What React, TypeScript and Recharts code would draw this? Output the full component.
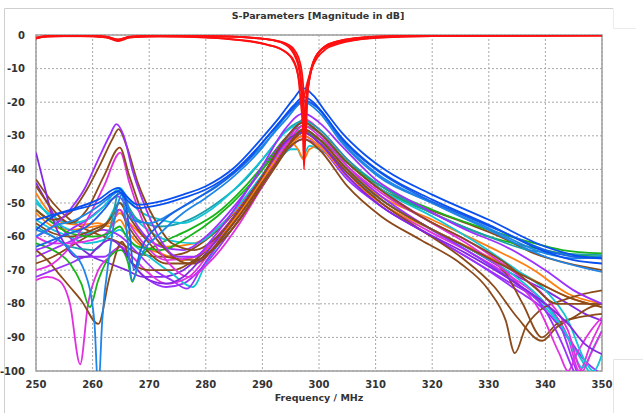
import React from 'react';
import { LineChart, Line, XAxis, YAxis, CartesianGrid, ReferenceArea } from 'recharts';

type P = [number, number];

const xTicks = [250, 260, 270, 280, 290, 300, 310, 320, 330, 340, 350];
const yTicks = [0, -10, -20, -30, -40, -50, -60, -70, -80, -90, -100];

// S11 (red) family
const red1: P[] = [[250,-0.9],[251.5,-0.4],[255,-0.2],[260,-0.3],[262.5,-0.6],[264.5,-1.5],[266.5,-0.6],[270,-0.3],[278,-0.3],[285,-0.5],[289,-0.9],[292,-1.6],[294,-2.8],[295,-4.2],[295.8,-6.5],[296.5,-10.5],[297,-18],[297.35,-40],[297.7,-22],[298.3,-13],[299,-8],[300,-5],[301.5,-3],[303.5,-1.8],[306,-1],[310,-0.5],[320,-0.2],[350,-0.1]];
const red2: P[] = [[250,-1.1],[251.5,-0.5],[255,-0.3],[260,-0.4],[262.5,-0.8],[264.5,-1.8],[266.5,-0.8],[270,-0.4],[276,-0.5],[281,-0.8],[285,-1.3],[288.5,-2],[291,-2.9],[293,-4],[294.5,-5.6],[295.5,-7.5],[296.3,-12],[296.9,-22],[297.3,-28],[297.8,-18],[298.6,-10],[299.6,-6],[301,-3.8],[303,-2.5],[306,-1.5],[310,-0.8],[320,-0.3],[350,-0.1]];
const red3: P[] = [[250,-0.8],[252,-0.3],[258,-0.2],[262.5,-0.5],[264.5,-1.3],[266.5,-0.5],[272,-0.2],[282,-0.4],[288,-0.8],[292,-1.5],[294.5,-2.8],[295.8,-4.8],[296.7,-8.5],[297.2,-15],[297.6,-30],[298,-17],[298.8,-9.5],[299.8,-5.5],[301,-3.4],[303,-2],[306,-1.1],[310,-0.5],[320,-0.2],[350,-0.1]];
const red4: P[] = [[250,-1],[252,-0.4],[258,-0.3],[262.5,-0.7],[264.5,-1.7],[266.5,-0.7],[272,-0.4],[279,-0.7],[284,-1.2],[288,-2],[291,-3],[293.5,-4.4],[295,-6.5],[296,-10],[296.8,-16],[297.2,-19],[297.8,-15],[298.7,-10],[299.8,-6.5],[301.2,-4.2],[303.5,-2.6],[306.5,-1.5],[311,-0.8],[320,-0.3],[350,-0.1]];
const red5: P[] = [[250,-0.9],[252,-0.4],[258,-0.2],[262.5,-0.6],[264.5,-1.4],[266.5,-0.6],[272,-0.3],[283,-0.4],[288.5,-0.9],[292.5,-1.8],[294.8,-3.5],[296,-6.5],[296.7,-11],[297.1,-20],[297.45,-34],[297.9,-19],[298.5,-11.5],[299.3,-7],[300.5,-4.2],[302.5,-2.4],[305.5,-1.3],[310,-0.6],[320,-0.2],[350,-0.1]];

// strong blue family
const blue1: P[] = [[250,-55],[253,-53.5],[257,-51.5],[261,-49],[264.5,-45.5],[266,-48],[268,-50.5],[272,-49.5],[276,-47.5],[280,-45],[285,-39.5],[290,-30.5],[293,-24.5],[295.5,-19],[297.2,-15.8],[299,-18],[301,-22.5],[304,-29],[308,-35.5],[312,-40.5],[320,-47.5],[330,-55],[340,-63],[345,-65.5],[350,-66.5]];
const blue2: P[] = [[250,-58],[253,-54],[257,-52],[261,-50],[264.5,-46.5],[266,-49],[268,-51.5],[272,-50.5],[276,-48.5],[280,-46],[285,-40.5],[290,-32],[293,-26],[295.5,-21],[297.3,-18.5],[299,-20],[301,-24],[304,-30.5],[308,-37],[312,-42],[320,-49],[330,-56.5],[340,-64.5],[345,-67],[350,-68]];
const azure1: P[] = [[250,-60],[253,-57],[257,-55],[261,-51],[264,-47],[265,-46],[266,-58],[267,-73],[268.5,-66],[272,-59],[276,-53],[280,-48.5],[285,-42],[290,-33.5],[294,-24.5],[297.3,-19.5],[300,-22],[304,-31.5],[310,-41],[320,-50],[330,-58],[340,-66],[350,-70.5]];
const azure2: P[] = [[250,-58],[253,-60],[256,-64],[258.5,-70],[260.3,-85],[261,-106],[261.7,-85],[263,-65],[264.5,-50],[265.5,-47],[267,-55],[270,-56],[275,-52],[280,-47],[285,-41],[290,-33],[294,-25.5],[297.3,-20],[300,-23],[304,-32],[310,-41.5],[320,-50],[330,-57.5],[340,-65],[345,-66.5],[350,-66]];
const blue3: P[] = [[250,-63],[253,-61],[256,-59],[259,-57],[262,-52],[264,-48],[265.3,-47],[266.5,-58],[267.3,-70],[268.5,-64],[272,-56],[277,-50],[282,-45],[287,-38],[291,-30],[294.5,-23.5],[297.3,-19.5],[300,-22],[304,-31],[310,-40],[318,-48],[326,-54],[333,-59],[340,-64],[345,-66],[350,-66.5]];

// other transmission curves
const purple1: P[] = [[250,-60],[253,-57],[256,-52],[258.5,-46],[261,-37],[263,-30],[264.2,-26.5],[265.5,-30],[267,-40],[269.5,-52],[272,-61],[275,-66],[278,-66],[281,-61],[285,-52],[290,-39],[294,-28],[297.3,-23.3],[300,-26],[304,-33],[310,-43],[318,-51],[326,-58],[333,-63],[340,-70],[345,-76],[350,-80]];
const brown1: P[] = [[250,-52],[253,-55],[256,-53],[259,-46],[261.5,-38],[263.5,-31],[264.6,-28],[266,-33],[268,-44],[271,-55],[274,-62],[278,-64],[282,-60],[286,-52],[290,-42],[294,-31],[297.3,-26],[300,-29],[305,-38],[310,-45],[318,-54],[326,-61],[333,-68],[338,-75],[342,-80],[346,-80],[350,-80]];
const brown2: P[] = [[250,-45],[253,-52],[256,-56],[259,-52],[262,-42],[264.8,-33.5],[266.5,-42],[269,-54],[273,-64],[277,-68],[281,-64],[286,-55],[291,-42],[294.5,-33],[297.3,-28],[300,-31],[305,-40],[311,-49],[319,-57],[326,-63],[333,-69],[339,-74],[344,-78],[350,-81]];
const magenta1: P[] = [[250,-70],[253,-68],[256,-63],[259,-55],[262,-45],[264.9,-35],[266.5,-44],[269,-56],[273,-67],[277,-72],[281,-67],[286,-56],[291,-42],[294.5,-32],[297.3,-27],[300,-30],[305,-39],[311,-47],[319,-55],[327,-62],[334,-70],[340,-78],[344,-88],[346.5,-100],[348,-95],[350,-88]];
const violet1: P[] = [[250,-35],[251.5,-45],[253,-55],[255,-62],[257,-66],[259,-66],[261,-63],[263,-61],[265,-63],[267,-68],[270,-73],[273,-74],[276,-72],[280,-65],[285,-54],[290,-42],[294,-32],[297.3,-29],[300,-32],[305,-42],[311,-51],[318,-58],[326,-65],[334,-73],[340,-80],[344,-86],[347,-92],[350,-95]];
const orange1: P[] = [[250,-47],[252,-52],[255,-56],[258,-56.5],[261,-56],[263,-57],[264.8,-55],[266,-58],[268,-62],[272,-65],[276,-67],[280,-64],[285,-55],[290,-43],[294,-34],[297.3,-30],[300,-33],[305,-42],[310,-49],[320,-58],[330,-66],[338,-73],[344,-78],[350,-81]];
const cyan1: P[] = [[250,-55],[253,-58],[256,-60],[259,-62],[262,-61],[264.8,-58],[267,-62],[270,-66],[274,-71],[277.7,-75],[280,-68],[284,-58],[289,-46],[293,-37],[295,-34],[296.2,-34],[297,-36.5],[298.3,-33],[301,-35],[305,-41],[311,-49],[320,-58],[328,-66],[335,-74],[341,-83],[345,-93],[348,-101],[350,-106]];
const purple2: P[] = [[250,-66],[254,-63],[258,-60],[262,-58],[265,-60],[268,-65],[271,-70],[274,-73],[276.7,-75.5],[279,-70],[283,-60],[288,-48],[292,-38],[295,-32],[297.3,-30],[300,-33],[305,-43],[311,-51],[320,-60],[328,-68],[335,-76],[340,-82],[344,-90],[347,-97],[350,-101]];
const magenta2: P[] = [[250,-73],[252,-72],[254,-73],[256,-80],[257.8,-98],[259.2,-80],[261,-70],[263,-66],[265,-63],[267,-66],[270,-71],[273,-74],[277,-72],[281,-64],[286,-53],[291,-41],[294.5,-33],[297.3,-29],[300,-32],[305,-41],[311,-50],[319,-58],[327,-65],[334,-72],[340,-80],[344,-90],[346,-100],[348,-92],[350,-85]];
const brown3: P[] = [[250,-64],[252,-67],[254,-71],[256,-75],[258,-79],[261,-86],[263,-72],[265.2,-61.5],[267,-68],[270,-70],[274,-70],[278,-67],[282,-61],[287,-51],[291,-41],[294.5,-33],[297.3,-28],[300,-31],[305,-40],[311,-49],[319,-57],[327,-64],[333,-71],[336,-80],[339.4,-90],[342,-86],[346,-84],[350,-83]];
const green1: P[] = [[250,-62],[253,-64],[256,-68],[258,-74],[259.5,-81],[261,-73],[263,-66],[265,-64],[266.3,-68],[267,-73.5],[268.5,-66],[272,-62],[277,-58],[282,-53],[287,-45],[291,-37],[294.5,-30],[297.3,-27],[300,-29],[305,-38],[311,-46],[320,-53],[330,-60],[337,-63],[343,-65],[350,-66]];
const teal1: P[] = [[250,-57],[253,-60],[256,-63],[260,-64],[263,-58],[264.8,-46],[266,-50],[268,-55],[272,-57],[277,-55],[282,-50],[287,-43],[291,-35],[294.5,-28],[297.3,-25.5],[300,-28],[305,-37],[311,-45],[320,-53],[330,-60],[337,-64],[343,-65],[350,-65.5]];
const cyan2: P[] = [[250,-50],[253,-54],[256,-56],[259,-55],[262,-51],[264.8,-45.5],[266,-48],[268,-52],[272,-55],[276,-56],[280,-53],[285,-46],[290,-37],[294,-29],[297.3,-26],[300,-29],[305,-38],[311,-46],[320,-54],[328,-62],[335,-70],[340,-76],[344,-85],[347,-97],[348.5,-100],[350,-95]];
const brown4: P[] = [[250,-43],[253,-50],[256,-55],[259,-58],[262,-60],[265,-62],[268,-65],[272,-66],[276,-65],[280,-61],[285,-53],[290,-42],[294,-33],[297.3,-29],[300,-31],[305,-38],[310,-45],[318,-51],[326,-56],[332,-60],[338,-65],[344,-68],[350,-70]];
const purple3: P[] = [[250,-72],[253,-70],[256,-68],[259,-66],[262,-66],[265,-63],[267,-68],[270,-73],[273,-75],[276,-74],[280,-68],[285,-57],[290,-45],[294,-35],[297.3,-31],[300,-33],[305,-42],[311,-51],[319,-59],[326,-66],[333,-73],[338,-78],[342,-84],[345.5,-100],[347,-106]];
const orange2: P[] = [[250,-53],[253,-57],[256,-58],[260,-57],[263,-56],[264.8,-53],[266,-55],[269,-60],[273,-63],[278,-62],[283,-56],[288,-47],[292,-38],[295,-32],[296.3,-34],[297.3,-37],[298.3,-34],[300,-33],[305,-40],[310,-47],[320,-55],[330,-63],[338,-70],[344,-77],[350,-80]];
const violet2: P[] = [[250,-44],[252,-50],[254,-56],[257,-62],[260,-66],[263,-68],[266,-70],[269,-72],[272,-72],[276,-70],[280,-64],[285,-54],[290,-42],[294,-32],[297.3,-28.5],[300,-31],[305,-40],[311,-49],[319,-57],[327,-64],[334,-71],[340,-76],[344,-80],[347,-83],[350,-85]];
const magenta3: P[] = [[250,-60],[253,-62],[256,-62],[260,-61],[263,-58],[264.8,-52],[266,-55],[269,-62],[273,-67],[278,-66],[283,-58],[288,-47],[292,-37],[295,-30],[297.3,-25],[300,-28],[305,-37],[311,-46],[319,-55],[327,-63],[334,-72],[339,-82],[342.5,-95],[344,-100],[345.5,-95],[348,-88],[350,-84]];
const brown5: P[] = [[250,-68],[253,-66],[256,-63],[259,-60],[262,-57],[264.8,-52],[266,-56],[269,-63],[273,-68],[278,-68],[283,-60],[288,-49],[292,-39],[295,-32],[297.3,-29],[300,-32],[305,-41],[311,-50],[318,-58],[325,-66],[331,-75],[335,-84],[339.4,-91],[342,-87],[345,-84],[348,-81],[350,-80]];
const brown6: P[] = [[250,-56],[253,-59],[256,-60],[260,-58],[263,-55],[264.8,-50],[266,-53],[269,-60],[273,-66],[278,-67],[283,-61],[288,-50],[292,-40],[295,-33],[297.3,-31],[300,-34],[305,-45],[311,-54],[318,-61],[325,-68],[330,-76],[333,-85],[334.6,-94.7],[336.5,-87],[339,-82],[343,-79],[347,-77],[350,-76]];
const cyan3: P[] = [[250,-49],[253,-55],[256,-58],[259,-59],[262,-57],[264.8,-50],[266,-52],[269,-57],[273,-61],[278,-62],[283,-56],[288,-46],[292,-37],[295,-30.5],[297.3,-28],[300,-31],[305,-40],[311,-49],[319,-57],[327,-64],[334,-71],[340,-80],[344,-90],[346.5,-99],[348.5,-93],[350,-88]];
const green2: P[] = [[250,-52],[253,-56],[256,-59],[260,-60],[263,-59],[264.8,-57],[266,-60],[268,-63],[272,-64],[277,-60],[282,-54],[287,-46],[291,-38],[294.5,-31],[297.3,-29],[300,-31],[305,-38],[311,-45],[320,-52],[330,-58],[337,-61.5],[343,-64],[350,-65]];
const purple4: P[] = [[250,-64],[253,-62],[256,-58],[259,-55],[262,-51],[264.5,-48],[266,-51],[268,-57],[272,-63],[276,-64],[280,-60],[285,-51],[290,-40],[294,-31],[297.3,-26],[300,-29],[305,-39],[311,-48],[319,-57],[327,-65],[334,-73],[340,-82],[343,-92],[345,-100],[347,-106]];

const RED = '#ff1010';
const BLUE = '#0a4ff0';
const AZURE = '#1e86e8';
const CYAN = '#12c4d6';
const TEAL = '#1aa0aa';
const PURPLE = '#9b30ff';
const VIOLET = '#8228e0';
const MAGENTA = '#e030e0';
const BROWN = '#8b4a1a';
const ORANGE = '#ff7f10';
const GREEN = '#18b418';

const series: { name: string; pts: P[]; color: string }[] = [
  { name: 'brown4', pts: brown4, color: BROWN },
  { name: 'violet2', pts: violet2, color: VIOLET },
  { name: 'purple3', pts: purple3, color: PURPLE },
  { name: 'cyan1', pts: cyan1, color: CYAN },
  { name: 'purple2', pts: purple2, color: PURPLE },
  { name: 'magenta2', pts: magenta2, color: MAGENTA },
  { name: 'brown3', pts: brown3, color: BROWN },
  { name: 'green1', pts: green1, color: GREEN },
  { name: 'orange1', pts: orange1, color: ORANGE },
  { name: 'orange2', pts: orange2, color: ORANGE },
  { name: 'cyan3', pts: cyan3, color: CYAN },
  { name: 'brown5', pts: brown5, color: BROWN },
  { name: 'brown6', pts: brown6, color: BROWN },
  { name: 'magenta3', pts: magenta3, color: MAGENTA },
  { name: 'purple4', pts: purple4, color: PURPLE },
  { name: 'green2', pts: green2, color: GREEN },
  { name: 'teal1', pts: teal1, color: TEAL },
  { name: 'cyan2', pts: cyan2, color: CYAN },
  { name: 'magenta1', pts: magenta1, color: MAGENTA },
  { name: 'violet1', pts: violet1, color: VIOLET },
  { name: 'brown2', pts: brown2, color: BROWN },
  { name: 'brown1', pts: brown1, color: BROWN },
  { name: 'purple1', pts: purple1, color: PURPLE },
  { name: 'azure2', pts: azure2, color: AZURE },
  { name: 'azure1', pts: azure1, color: AZURE },
  { name: 'blue3', pts: blue3, color: '#1a62e6' },
  { name: 'blue2', pts: blue2, color: BLUE },
  { name: 'blue1', pts: blue1, color: BLUE },
  { name: 'red2', pts: red2, color: RED },
  { name: 'red4', pts: red4, color: RED },
  { name: 'red3', pts: red3, color: RED },
  { name: 'red5', pts: red5, color: RED },
  { name: 'red1', pts: red1, color: RED },
];

const toData = (pts: P[]) => pts.map(([f, v]) => ({ f, v }));

const FONT = '"DejaVu Sans", Verdana, sans-serif';

export default function App() {
  return (
    <div style={{ position: 'absolute', left: 0, top: 0, width: 643, height: 416, background: '#fff' }}>
      <svg width={643} height={416} style={{ position: 'absolute', left: 0, top: 0 }}>
        <g stroke="#cfcfcf" strokeWidth={1} fill="none">
          <polyline points="4.5,413 4.5,8.5 613,8.5" />
          <polyline points="613.5,8.5 613.5,28.5 636,28.5" stroke="#ececec" />
          <polyline points="643,359.5 613.5,359.5 613.5,413" stroke="#e4e4e4" />
        </g>
        <text x={318} y={19} textAnchor="middle" fontFamily={FONT} fontWeight="bold" fontSize={9.5} fill="#333">
          S-Parameters [Magnitude in dB]
        </text>
      </svg>
      <div style={{ position: 'absolute', left: 0, top: 0 }}>
        <LineChart width={643} height={416} margin={{ top: 35, right: 41, bottom: 15, left: 0 }}>
          <CartesianGrid stroke="#a8a8a8" strokeDasharray="2 2" strokeWidth={1} />
          <XAxis
            dataKey="f"
            type="number"
            domain={[250, 350]}
            ticks={xTicks}
            allowDataOverflow
            height={30}
            axisLine={false}
            tickLine={false}
            tickMargin={4}
            tick={{ fontFamily: FONT, fontWeight: 'bold', fontSize: 10, fill: '#333' }}
            label={{ value: 'Frequency / MHz', position: 'insideBottom', offset: 0, style: { fontFamily: FONT, fontWeight: 'bold', fontSize: 9.5, fill: '#333' } }}
          />
          <YAxis
            type="number"
            domain={[-100, 0]}
            ticks={yTicks}
            allowDataOverflow
            width={36}
            axisLine={false}
            tickLine={false}
            tickMargin={5}
            tick={{ fontFamily: FONT, fontWeight: 'bold', fontSize: 10, fill: '#333' }}
          />
          <ReferenceArea x1={250} x2={350} y1={-100} y2={0} fill="none" stroke="#a0a0a0" strokeWidth={1.5} ifOverflow="visible" />
          {series.map((s) => (
            <Line
              key={s.name}
              data={toData(s.pts)}
              dataKey="v"
              type="monotone"
              stroke={s.color}
              strokeWidth={1.8}
              dot={false}
              activeDot={false}
              isAnimationActive={false}
            />
          ))}
        </LineChart>
      </div>
    </div>
  );
}
